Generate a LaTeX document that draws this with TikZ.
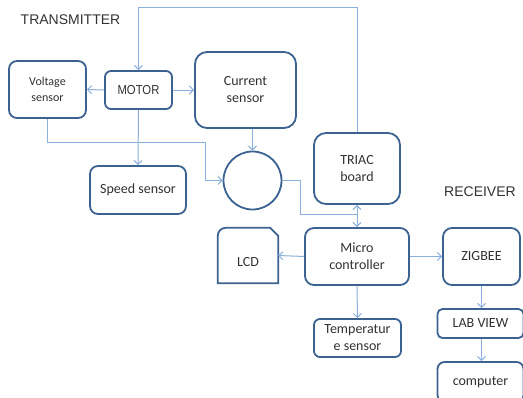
\documentclass[tikz,border=0pt]{standalone}
\usepackage{fontspec}
\setmainfont{Carlito}
\newfontfamily\headFont{Liberation Sans}
\usetikzlibrary{positioning}
\usetikzlibrary{arrows.meta}
\usetikzlibrary{calc}
\definecolor{boxblue}{RGB}{60,98,145}
\definecolor{wireblue}{RGB}{140,176,222}
\definecolor{inkgrey}{RGB}{50,50,50}
\def\boxFont{\fontsize{14}{17}\selectfont}
\def\smallFont{\fontsize{12}{16}\selectfont}
\tikzset{% block diagram styles
  block/.style = {draw=boxblue, line width=1.8pt, rectangle, rounded corners=8pt,
    align=center, font=\boxFont, text=inkgrey, inner sep=1pt, fill=white},
  wire/.style  = {draw=wireblue, line width=1pt},
  title/.style = {font=\headFont\fontsize{14}{16}\selectfont, text=inkgrey, inner sep=0pt},
}

\begin{document}
\begin{tikzpicture}[x=1pt, y=-1pt, >={Straight Barb[length=4pt,width=8pt]}]
      \useasboundingbox (0,0) rectangle (523,397);

      % Transmitter side
      \node[title] (Tx) at (70.5,20) {TRANSMITTER};
      \node[block, minimum width=67pt, minimum height=38pt, rounded corners=6pt,
        font=\headFont\fontsize{13}{15}\selectfont] (Motor) at (138.5,90) {\scalebox{0.87}[1]{MOTOR}};
      \node[block, minimum width=77pt, minimum height=57pt, font=\smallFont] (Volt) at (47.5,89.5) {Voltage\\sensor};
      \node[block, minimum width=101pt, minimum height=76pt, rounded corners=12pt] (Curr) at (245.5,90) {Current\\sensor};
      \node[block, minimum width=96pt, minimum height=48pt] (Speed) at (138,190) {Speed sensor};
      \node[draw=boxblue, line width=1.8pt, circle, minimum size=58pt, inner sep=0] (Sum) at (252.5,180.5) {};
      \node[block, minimum width=86pt, minimum height=71pt, rounded corners=12pt] (Triac) at (357,168.5) {TRIAC\\board};

      % Micro controller and its peripherals
      \node[block, minimum width=104pt, minimum height=57pt, rounded corners=9pt] (Micro) at (357,256.5) {Micro\\controller};
      \node[minimum width=60pt, minimum height=55pt, inner sep=0,
        label={[font=\boxFont, text=inkgrey, yshift=-7pt]center:LCD}] (LCD) at (248,255.5) {};
      \draw[draw=boxblue, line width=1.8pt]
        (LCD.south west) -- ([yshift=-8pt]LCD.north west)
        arc[start angle=180, end angle=90, radius=8pt]
        -- ([xshift=-8pt]LCD.north east) -- ([yshift=-8pt]LCD.north east)
        -- (LCD.south east) -- cycle;
      \node[block, minimum width=87pt, minimum height=38pt, rounded corners=6pt] (Temp) at (357.5,338) {Temperatur\\e sensor};

      % Receiver side
      \node[title] (Rx) at (480,192) {RECEIVER};
      \node[block, minimum width=77pt, minimum height=57pt, rounded corners=9pt] (Zigbee) at (481.5,256.5) {ZIGBEE};
      \node[block, minimum width=86pt, minimum height=29pt, rounded corners=5pt] (LabView) at (480.5,323.5) {LAB VIEW};
      \node[block, minimum width=86pt, minimum height=40pt, rounded corners=7pt] (Computer) at (480.5,382) {computer};

      % feedback from the TRIAC board back to the motor
      \draw[wire, ->] (Triac.north) -- ++(0,-125) -| (Motor.north);

      \draw[wire, ->] (Motor.west) -- (Volt.east);
      \draw[wire, ->] (Motor.east) -- (Curr.west);
      \draw[wire, ->] (Motor.south) -- (Speed.north);

      \coordinate (vBend) at (205,142);
      \draw[wire, ->] (Volt.south) |- (vBend) |- (Sum.west);
      \draw[wire, ->] (Curr.south -| Sum.north) -- (Sum.north);

      \coordinate (tap) at (357,214);
      \draw[wire] (Sum.east) -- ++(18,0) |- (tap);
      \draw[wire, <->] (Triac.south) -- (Micro.north);

      \draw[wire, ->] (Micro.west) -- (LCD.east);
      \draw[wire, ->] (Micro.east) -- (Zigbee.west);
      \draw[wire, ->] (Micro.south) -- (Temp.north);
      \draw[wire, ->] (Zigbee.south) -- (LabView.north -| Zigbee.south);
      \draw[wire, ->] (LabView.south -| Zigbee.south) -- (Computer.north -| Zigbee.south);
\end{tikzpicture}
\end{document}
